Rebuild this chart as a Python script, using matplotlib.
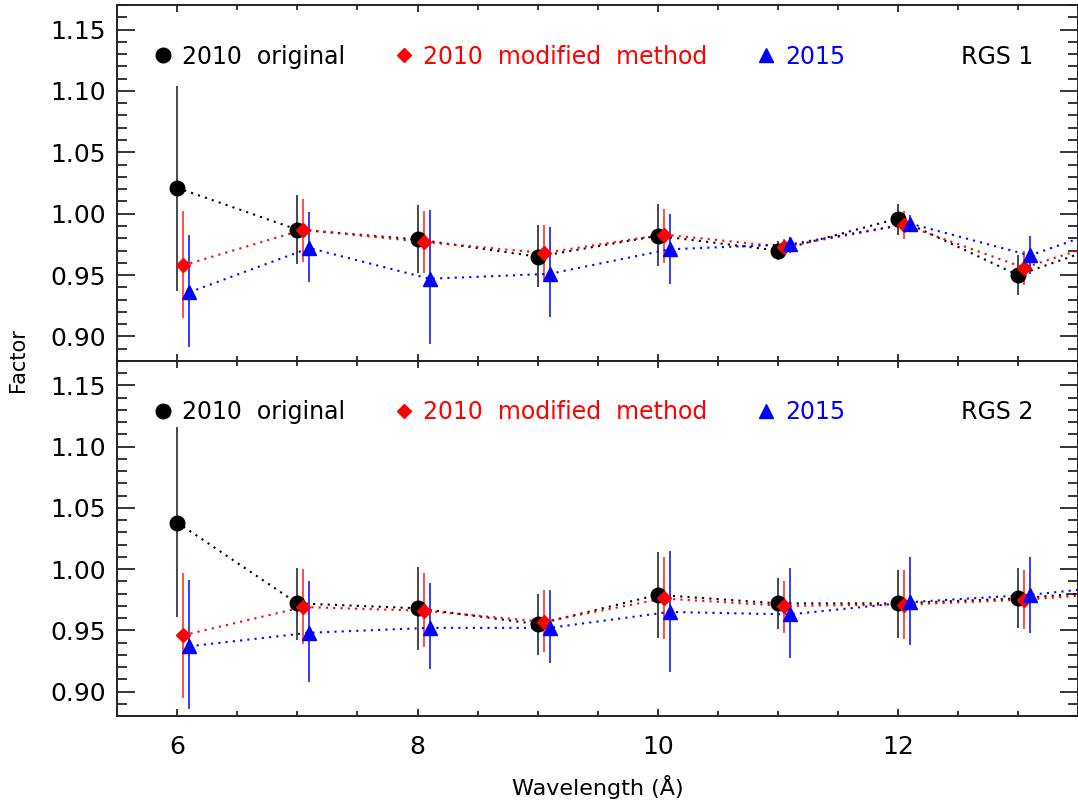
import numpy as np
import matplotlib.pyplot as plt
from matplotlib.lines import Line2D
from matplotlib.ticker import MultipleLocator

# wavelength bins (A); the 14 A bin lies just beyond the right edge
wave = np.array([6, 7, 8, 9, 10, 11, 12, 13, 14])
off_red = 0.05
off_blue = 0.10

# ---- RGS 1 ----
r1_orig = [1.021, 0.987, 0.979, 0.965, 0.982, 0.970, 0.996, 0.950, 0.984]
r1_orig_lo = [0.937, 0.959, 0.952, 0.940, 0.957, 0.962, 0.983, 0.934, 0.970]
r1_orig_hi = [1.104, 1.015, 1.007, 0.991, 1.008, 0.978, 1.008, 0.966, 0.998]

r1_mod = [0.958, 0.987, 0.977, 0.968, 0.983, 0.973, 0.991, 0.956, 0.987]
r1_mod_lo = [0.915, 0.961, 0.952, 0.946, 0.960, 0.966, 0.979, 0.942, 0.975]
r1_mod_hi = [1.002, 1.012, 1.002, 0.991, 1.004, 0.979, 1.002, 0.970, 0.999]

r1_2015 = [0.936, 0.972, 0.947, 0.951, 0.971, 0.975, 0.992, 0.966, 1.000]
r1_2015_lo = [0.891, 0.944, 0.894, 0.916, 0.943, 0.968, 0.986, 0.951, 0.985]
r1_2015_hi = [0.983, 1.001, 1.003, 0.989, 1.000, 0.981, 0.999, 0.982, 1.015]

# ---- RGS 2 ----
r2_orig = [1.038, 0.972, 0.968, 0.955, 0.979, 0.972, 0.972, 0.976, 0.984]
r2_orig_lo = [0.961, 0.942, 0.934, 0.930, 0.944, 0.951, 0.944, 0.952, 0.965]
r2_orig_hi = [1.116, 1.001, 1.002, 0.980, 1.014, 0.993, 0.999, 1.001, 1.003]

r2_mod = [0.946, 0.969, 0.966, 0.957, 0.976, 0.970, 0.971, 0.975, 0.982]
r2_mod_lo = [0.895, 0.939, 0.936, 0.932, 0.943, 0.948, 0.943, 0.951, 0.962]
r2_mod_hi = [0.997, 1.000, 0.997, 0.983, 1.010, 0.990, 0.999, 0.999, 1.002]

r2_2015 = [0.937, 0.948, 0.952, 0.952, 0.965, 0.963, 0.973, 0.979, 0.989]
r2_2015_lo = [0.886, 0.908, 0.918, 0.923, 0.916, 0.927, 0.938, 0.948, 0.958]
r2_2015_hi = [0.991, 0.990, 0.989, 0.983, 1.015, 1.001, 1.010, 1.010, 1.020]

panels = [
    ("RGS 1", (r1_orig, r1_orig_lo, r1_orig_hi), (r1_mod, r1_mod_lo, r1_mod_hi),
     (r1_2015, r1_2015_lo, r1_2015_hi)),
    ("RGS 2", (r2_orig, r2_orig_lo, r2_orig_hi), (r2_mod, r2_mod_lo, r2_mod_hi),
     (r2_2015, r2_2015_lo, r2_2015_hi)),
]

labels = ["2010  original", "2010  modified  method", "2015"]
colors = ["black", "#ff0000", "#0000ff"]
ecolors = ["#3a3a3a", "#ff4040", "#2a2aff"]
markers = ["o", "D", "^"]
msizes = [10.5, 7.5, 10.5]
offsets = [0.0, off_red, off_blue]

plt.rcParams['font.family'] = ['DejaVu Sans']

fig = plt.figure(figsize=(10.78, 8.07), dpi=100)
left = 117.3 / 1078
width = 1.0 - left
ax_top = fig.add_axes([left, 1 - 361 / 807, width, 356 / 807])
ax_bot = fig.add_axes([left, 1 - 716 / 807, width, 355 / 807], sharex=ax_top)

for ax, (name, *series) in zip([ax_top, ax_bot], panels):
    for (vals, lo, hi), lab, c, ec, m, ms, dx in zip(series, labels, colors, ecolors,
                                                     markers, msizes, offsets):
        vals = np.array(vals)
        yerr = [vals - np.array(lo), np.array(hi) - vals]
        ax.errorbar(wave + dx, vals, yerr=yerr, fmt='none', ecolor=ec,
                    elinewidth=1.3, capsize=0, zorder=2)
        ax.plot(wave + dx, vals, ls=(0, (1, 2.5)), lw=1.5, color=c, zorder=3)
        ax.plot(wave + dx, vals, ls='none', marker=m, ms=ms, color=c, zorder=4)

    ax.set_xlim(5.5, 13.5)
    ax.set_ylim(0.88, 1.17)
    ax.yaxis.set_major_locator(MultipleLocator(0.05))
    ax.yaxis.set_minor_locator(MultipleLocator(0.01))
    ax.xaxis.set_major_locator(MultipleLocator(2))
    ax.xaxis.set_minor_locator(MultipleLocator(0.5))
    ax.yaxis.set_major_formatter(plt.FormatStrFormatter('%.2f'))
    ax.tick_params(axis='y', which='major', direction='in', length=13, width=1.1,
                   left=True, right=True, labelsize=18, pad=8)
    ax.tick_params(axis='y', which='minor', direction='in', length=7, width=1.1,
                   left=True, right=True)
    ax.tick_params(axis='x', which='major', direction='in', length=5, width=1.1,
                   top=True, bottom=True, labelsize=18, pad=14)
    ax.tick_params(axis='x', which='minor', direction='in', length=3.5, width=1.1,
                   top=True, bottom=True)
    for sp in ax.spines.values():
        sp.set_linewidth(1.4)
        sp.set_color("#222222")

    handles = [Line2D([], [], ls='none', marker=m, ms=ms, color=c)
               for m, ms, c in zip(markers, msizes, colors)]
    leg = ax.legend(handles, labels, loc='center left',
                    bbox_to_anchor=(0.035, 0.855), ncol=3, frameon=False,
                    fontsize=17, handlelength=1.0, handletextpad=0.3,
                    columnspacing=2.0, borderpad=0, borderaxespad=0)
    for t, c in zip(leg.get_texts(), colors):
        t.set_color(c)
    ax.text(0.878, 0.855, name, transform=ax.transAxes,
            ha='left', va='center', fontsize=17, color='black')

ax_top.tick_params(axis='x', labelbottom=False)
ax_bot.set_xlabel("Wavelength (Å)", fontsize=16, labelpad=11)
fig.text(0.017, 1 - 360 / 807, "Factor", rotation=90, fontsize=15,
         ha='center', va='center')

fig.savefig("out.png", dpi=100)
